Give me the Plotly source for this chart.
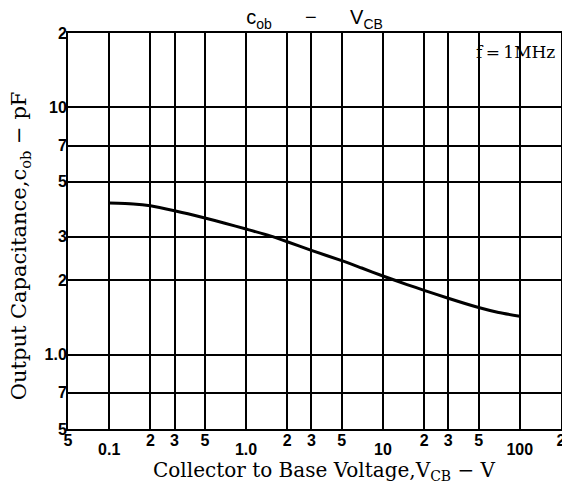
import plotly.graph_objects as go
import numpy as np

# Data
vcb = [0.1, 0.15, 0.2, 0.3, 0.5, 0.7, 1.0, 1.5, 2, 3, 5, 7, 10, 15, 20, 30, 50, 70, 100]
cob = [4.1, 4.07, 4.0, 3.82, 3.57, 3.40, 3.22, 3.02, 2.86, 2.64, 2.40, 2.24, 2.08, 1.92, 1.82, 1.69, 1.55, 1.48, 1.43]

x_minor_vals = [0.05, 0.2, 0.3, 0.5, 2, 3, 5, 20, 30, 50, 200]
x_minor_text = ["5", "2", "3", "5", "2", "3", "5", "2", "3", "5", "2"]
x_decade_vals = [0.1, 1, 10, 100]
x_decade_text = ["0.1", "1.0", "10", "100"]
y_vals = [0.5, 0.7, 1, 2, 3, 5, 7, 10, 20]
y_text = ["5", "7", "1.0", "2", "3", "5", "7", "10", "2"]

sans = "Liberation Sans"
serif = "DejaVu Serif"

fig = go.Figure()
fig.add_trace(go.Scatter(x=vcb, y=cob, mode="lines",
                         line=dict(color="black", width=3, shape="spline", smoothing=0.6),
                         showlegend=False, hoverinfo="skip"))
fig.add_trace(go.Scatter(x=vcb, y=cob, mode="lines", xaxis="x2", opacity=0,
                         line=dict(color="black", width=1),
                         showlegend=False, hoverinfo="skip"))

xr = [np.log10(0.05), np.log10(200)]
yr = [np.log10(0.5), np.log10(20)]
tick_font = dict(family=sans, size=16, color="black", weight="bold")

fig.update_layout(
    width=562, height=483,
    margin=dict(l=60, r=9, t=25, b=62),
    paper_bgcolor="white", plot_bgcolor="white",
    title=dict(text="c<sub>ob</sub>      −      V<sub>CB</sub>", x=0.5, xref="paper",
               xanchor="center", y=0.995, yanchor="top",
               font=dict(family=sans, size=20, color="black")),
    xaxis=dict(type="log", range=xr, tickvals=x_minor_vals, ticktext=x_minor_text,
               showgrid=True, gridcolor="black", gridwidth=1.6,
               showline=True, linecolor="black", linewidth=2, mirror=True,
               ticks="", ticklabelstandoff=-4, automargin=False,
               tickfont=tick_font, zeroline=False),
    xaxis2=dict(type="log", range=xr, overlaying="x", side="bottom", anchor="y",
                tickvals=x_decade_vals, ticktext=x_decade_text,
                showgrid=True, gridcolor="black", gridwidth=1.6,
                showline=False, ticks="", ticklabelstandoff=9, automargin=False,
                tickfont=tick_font, zeroline=False),
    yaxis=dict(type="log", range=yr, tickvals=y_vals, ticktext=y_text,
               showgrid=True, gridcolor="black", gridwidth=1.6,
               showline=True, linecolor="black", linewidth=2, mirror=True,
               ticks="", ticklabelstandoff=-4, automargin=False,
               tickfont=tick_font, zeroline=False),
    annotations=[
        dict(text="f\u2009=\u20091MHz", xref="paper", yref="paper", x=0.992, y=0.952,
             xanchor="right", yanchor="middle", showarrow=False,
             font=dict(family=serif, size=17, color="black")),
        dict(text="Collector to Base Voltage,V<sub>CB</sub> − V", xref="paper", yref="paper",
             x=0.521, y=-0.106, xanchor="center", yanchor="middle", showarrow=False,
             font=dict(family=serif, size=20, color="black")),
        dict(text="Output Capacitance,c<sub>ob</sub> − pF", xref="paper", yref="paper",
             x=-0.097, y=0.462, xanchor="center", yanchor="middle", showarrow=False,
             textangle=-90, font=dict(family=serif, size=21, color="black")),
    ],
)

fig.write_html("out.html")
